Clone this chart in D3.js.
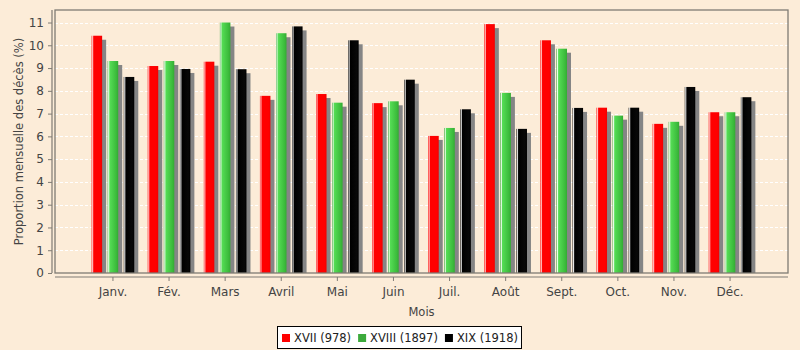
<!DOCTYPE html>
<html>
<head>
<meta charset="utf-8">
<script src="https://cdn.jsdelivr.net/npm/d3@7"></script>
<style>
  html, body { margin: 0; padding: 0; background: #FCECD8; }
  svg { display: block; font-family: "DejaVu Sans", sans-serif; }
</style>
</head>
<body>
<svg id="chart" width="800" height="350"></svg>
<script>
// Monthly share of deaths (%) per century
const months = ["Janv.", "Fév.", "Mars", "Avril", "Mai", "Juin", "Juil.", "Août", "Sept.", "Oct.", "Nov.", "Déc."];
const seriesNames = ["XVII (978)", "XVIII (1897)", "XIX (1918)"];
const xvii  = [10.42, 9.09, 9.28, 7.78, 7.86, 7.46, 6.02, 10.93, 10.22, 7.26, 6.55, 7.06];
const xviii = [9.31, 9.31, 11.00, 10.53, 7.48, 7.54, 6.37, 7.91, 9.85, 6.91, 6.64, 7.06];
const xix   = [8.61, 8.96, 8.95, 10.83, 10.22, 8.49, 7.19, 6.33, 7.25, 7.26, 8.17, 7.72];
const yTicks = [0, 1, 2, 3, 4, 5, 6, 7, 8, 9, 10, 11];

const seriesValues = [xvii, xviii, xix];
const seriesColors = ["#FF0000", "#3CAA3C", "#000000"];

const svg = d3.select("#chart");
const plot = { left: 55, right: 788, top: 10, bottom: 273 };

const x = d3.scaleBand().domain(months).range([plot.left, plot.right])
  .paddingInner(0.24).paddingOuter(0.653);
const xs = d3.scaleBand().domain(seriesNames).range([0, x.bandwidth()])
  .paddingInner(0.346).paddingOuter(0);
const y = d3.scaleLinear().domain([0, 11.55]).range([plot.bottom, plot.top]);

// Bar gradients (edge, highlight stripe, body)
const defs = svg.append("defs");
const gradStops = [
  [["0%", "#FF0000"], ["9%", "#FFC8C8"], ["20%", "#FF0000"], ["80%", "#FF0000"], ["100%", "#F00000"]],
  [["0%", "#2E9E2E"], ["9%", "#F0FFF0"], ["20%", "#55DD55"], ["80%", "#3CBC3C"], ["100%", "#33AA33"]],
  [["0%", "#000000"], ["9%", "#E8E8E8"], ["20%", "#000000"], ["80%", "#080808"], ["100%", "#000000"]]
];
gradStops.forEach((stops, i) => {
  const g = defs.append("linearGradient").attr("id", "grad" + i)
    .attr("x1", "0%").attr("x2", "100%").attr("y1", "0%").attr("y2", "0%");
  stops.forEach(s => g.append("stop").attr("offset", s[0]).attr("stop-color", s[1]));
});

// Grid lines
svg.append("g").selectAll("line").data(yTicks.filter(d => d > 0)).join("line")
  .attr("x1", plot.left).attr("x2", plot.right)
  .attr("y1", d => Math.round(y(d)) + 0.5).attr("y2", d => Math.round(y(d)) + 0.5)
  .attr("stroke", "#FFFFFF").attr("stroke-width", 1).attr("stroke-dasharray", "3,2");

// Bars with drop shadows
const shadowDx = 4, shadowDy = 4;
const data = [];
months.forEach((m, mi) => {
  seriesNames.forEach((s, si) => data.push({ m, s, si, v: seriesValues[si][mi] }));
});

const barsG = svg.append("g");
barsG.selectAll("rect.shadow").data(data).join("rect").attr("class", "shadow")
  .attr("x", d => x(d.m) + xs(d.s) + shadowDx)
  .attr("y", d => y(d.v) + shadowDy)
  .attr("width", xs.bandwidth())
  .attr("height", d => Math.max(0, y(0) - y(d.v) - shadowDy))
  .attr("fill", "#858585");
barsG.selectAll("rect.bar").data(data).join("rect").attr("class", "bar")
  .attr("x", d => x(d.m) + xs(d.s))
  .attr("y", d => y(d.v))
  .attr("width", xs.bandwidth())
  .attr("height", d => y(0) - y(d.v))
  .attr("fill", d => `url(#grad${d.si})`);

// Plot outline
svg.append("rect")
  .attr("x", plot.left).attr("y", plot.top)
  .attr("width", plot.right - plot.left).attr("height", plot.bottom - plot.top)
  .attr("fill", "none").attr("stroke", "#7F7B74").attr("stroke-width", 1.3);

// Y axis
const yAxis = d3.axisLeft(y).tickValues(yTicks).tickSize(4).tickPadding(4).tickFormat(d3.format("d"));
const yg = svg.append("g").attr("transform", "translate(52,0)").call(yAxis);
yg.select(".domain").attr("stroke", "#7F7B74").attr("stroke-width", 1.2)
  .attr("d", `M0,${plot.top}V${plot.bottom}`);
yg.selectAll(".tick line").attr("stroke", "#7F7B74");
yg.selectAll(".tick text").attr("fill", "#444").style("font-size", "12px")
  .style("font-family", "DejaVu Sans, sans-serif");

// X axis
const xAxis = d3.axisBottom(x).tickSize(4).tickPadding(6);
const xg = svg.append("g").attr("transform", "translate(0,277)").call(xAxis);
xg.select(".domain").attr("stroke", "#7F7B74").attr("stroke-width", 1.2)
  .attr("d", `M${plot.left},0H${plot.right}`);
xg.selectAll(".tick line").attr("stroke", "#7F7B74");
xg.selectAll(".tick text").attr("fill", "#444").style("font-size", "12px")
  .style("font-family", "DejaVu Sans, sans-serif");

// Axis titles
svg.append("text")
  .attr("x", (plot.left + plot.right) / 2).attr("y", 316)
  .attr("text-anchor", "middle").attr("fill", "#444").style("font-size", "11.5px")
  .text("Mois");
svg.append("text")
  .attr("transform", `translate(23,${(plot.top + plot.bottom) / 2}) rotate(-90)`)
  .attr("text-anchor", "middle").attr("fill", "#444").style("font-size", "11.5px")
  .text("Proportion mensuelle des décès (%)");

// Legend
const legend = svg.append("g");
const legendBox = legend.append("rect")
  .attr("fill", "#FFFFFF").attr("stroke", "#000").attr("stroke-width", 1);
const itemsG = legend.append("g");
let cx = 0;
seriesNames.forEach((name, i) => {
  const it = itemsG.append("g").attr("transform", `translate(${cx},0)`);
  it.append("rect").attr("x", 0).attr("y", -8).attr("width", 8).attr("height", 8)
    .attr("fill", seriesColors[i]);
  const t = it.append("text").attr("x", 12).attr("y", 0).attr("fill", "#222")
    .style("font-size", "11.5px").text(name);
  cx += 12 + t.node().getComputedTextLength() + 7;
});
const legendW = cx - 7;
const lx = Math.round((800 - legendW) / 2);
itemsG.attr("transform", `translate(${lx},342)`);
legendBox.attr("x", lx - 4.5).attr("y", 326.5).attr("width", legendW + 8).attr("height", 22);
</script>
</body>
</html>
